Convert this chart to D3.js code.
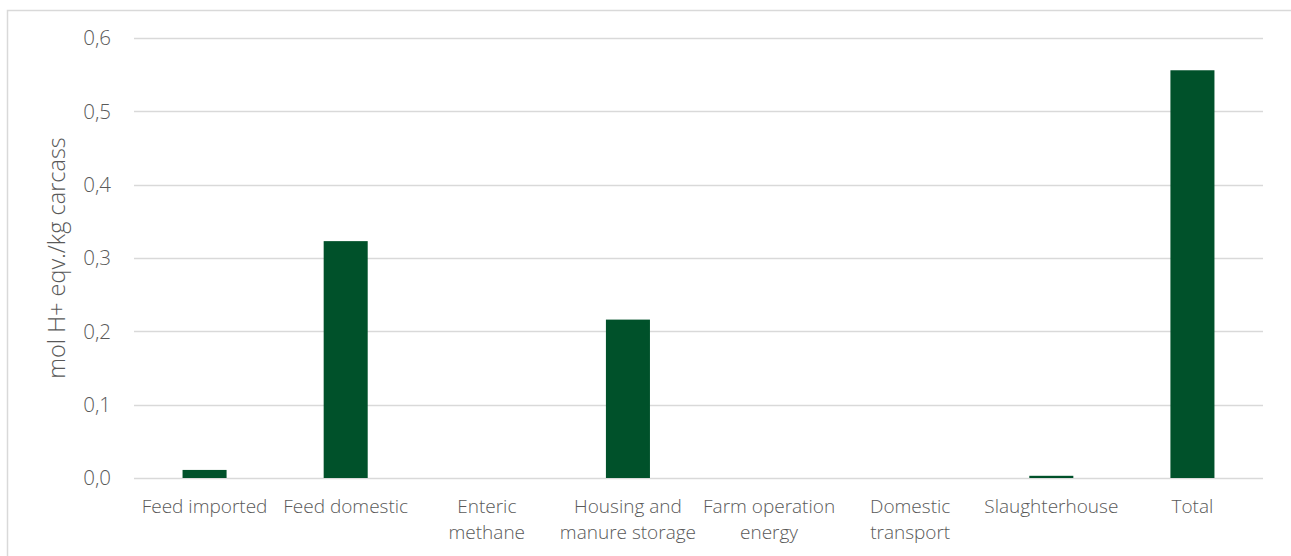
<!DOCTYPE html>
<html>
<head>
<meta charset="utf-8">
<script src="https://cdn.jsdelivr.net/npm/d3@7"></script>
<style>
  body { margin: 0; background: #fff; }
  svg text { font-family: "Open Sans", "Segoe UI", sans-serif; font-weight: 300; fill: #595959; }
</style>
</head>
<body>
<div id="chart"></div>
<script>
const categories = [
  ["Feed imported"],
  ["Feed domestic"],
  ["Enteric", "methane"],
  ["Housing and", "manure storage"],
  ["Farm operation", "energy"],
  ["Domestic", "transport"],
  ["Slaughterhouse"],
  ["Total"]
];
const values = [0.011, 0.323, 0, 0.216, 0, 0, 0.003, 0.556];
const yTicks = [0, 0.1, 0.2, 0.3, 0.4, 0.5, 0.6];
const yTitle = "mol H+ eqv./kg carcass";

const W = 1291, H = 556;
const dims = { left: 134, right: 28, top: 38, bottom: 78 };

const svg = d3.select("#chart").append("svg")
  .attr("width", W).attr("height", H);

// outer chart border
svg.append("rect")
  .attr("x", 7.5).attr("y", 10.5)
  .attr("width", W).attr("height", H)
  .attr("fill", "none").attr("stroke", "#d9d9d9").attr("stroke-width", 1.5);

const xScale = d3.scaleBand()
  .domain(d3.range(categories.length))
  .range([dims.left, W - dims.right])
  .paddingInner(0.688).paddingOuter(0.344);
const yScale = d3.scaleLinear([0, 0.6], [H - dims.bottom, dims.top]);

const fmt = d => d3.format(".1f")(d).replace(".", ",");

// gridlines
svg.append("g").selectAll("line")
  .data(yTicks)
  .join("line")
    .attr("x1", dims.left).attr("x2", W - dims.right)
    .attr("y1", d => Math.round(yScale(d)) + 0.5)
    .attr("y2", d => Math.round(yScale(d)) + 0.5)
    .attr("stroke", "#d9d9d9").attr("stroke-width", 1.5);

// y tick labels
svg.append("g").selectAll("text")
  .data(yTicks)
  .join("text")
    .attr("x", 111)
    .attr("y", d => yScale(d))
    .attr("dy", "0.35em")
    .attr("text-anchor", "end")
    .attr("font-size", 20.5)
    .text(fmt);

// bars
svg.append("g").selectAll("rect")
  .data(values)
  .join("rect")
    .attr("x", (d, i) => xScale(i))
    .attr("y", d => yScale(d))
    .attr("width", xScale.bandwidth())
    .attr("height", d => yScale(0) - yScale(d))
    .attr("fill", "#00512a");

// category labels
const catG = svg.append("g").selectAll("text")
  .data(categories)
  .join("text")
    .attr("x", (d, i) => xScale(i) + xScale.bandwidth() / 2)
    .attr("y", 513)
    .attr("text-anchor", "middle")
    .attr("font-size", 19);
catG.selectAll("tspan")
  .data(d => d)
  .join("tspan")
    .attr("x", function() { return this.parentNode.getAttribute("x"); })
    .attr("dy", (d, i) => i ? 26 : 0)
    .text(d => d);

// y axis title
svg.append("text")
  .attr("transform", `translate(65 ${yScale(0.3)}) rotate(-90)`)
  .attr("text-anchor", "middle")
  .attr("font-size", 23.5)
  .text(yTitle);
</script>
</body>
</html>
